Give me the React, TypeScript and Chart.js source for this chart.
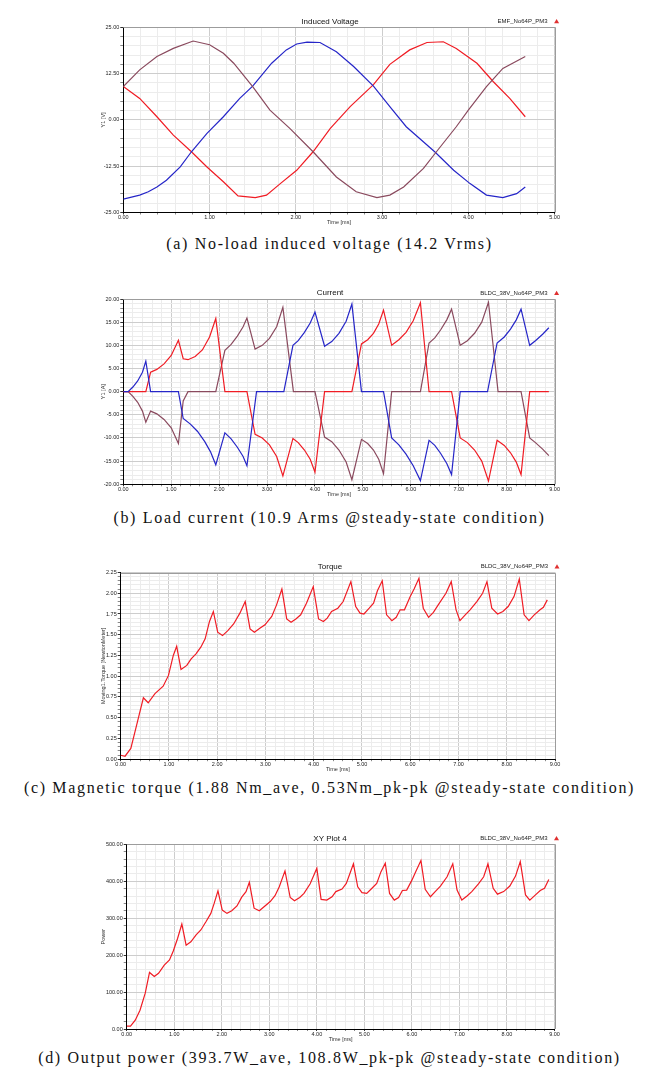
import React, { useEffect, useRef } from "react";
import { Chart, registerables } from "chart.js";

Chart.register(...registerables);

const RED = "#f01c24";
const BLUE = "#2626c8";
const BROWN = "#8a4a5e";

// ---------- (a) Induced voltage  [time ms, volts] ----------
const emfRed: [number, number][] = [
  [0, 9.0], [0.19, 5.8], [0.39, 0.85], [0.58, -4.1], [0.79, -8.6], [0.97, -12.7],
  [1.16, -16.7], [1.33, -20.5], [1.53, -21.0], [1.66, -20.3], [1.82, -17.2],
  [2.01, -13.6], [2.2, -8.6], [2.4, -2.3], [2.63, 3.6], [2.9, 9.5], [3.09, 15.0],
  [3.32, 18.9], [3.52, 20.9], [3.71, 21.1], [3.86, 19.3], [4.1, 15.3], [4.29, 10.3],
  [4.48, 5.8], [4.66, 0.85],
];
const emfBlue: [number, number][] = [
  [0, -21.4], [0.19, -20.3], [0.29, -19.4], [0.39, -18.1], [0.5, -16.3], [0.66, -12.7],
  [0.79, -8.6], [0.97, -3.65], [1.16, 0.85], [1.35, 5.8], [1.5, 9.1], [1.72, 15.3],
  [1.89, 18.9], [2.01, 20.5], [2.13, 21.0], [2.28, 20.9], [2.47, 18.4], [2.67, 14.4],
  [2.9, 9.1], [3.09, 3.6], [3.28, -1.85], [3.61, -8.6], [3.83, -13.6], [4.02, -17.2],
  [4.21, -20.3], [4.4, -21.0], [4.56, -19.9], [4.66, -18.1],
];
const emfBrown: [number, number][] = [
  [0, 9.0], [0.19, 13.5], [0.39, 17.1], [0.58, 19.3], [0.81, 21.3], [1.0, 20.3],
  [1.16, 18.0], [1.28, 15.3], [1.5, 9.0], [1.7, 2.65], [1.93, -2.3], [2.2, -8.6],
  [2.47, -15.4], [2.7, -19.4], [2.94, -21.0], [3.09, -20.3], [3.25, -18.1],
  [3.48, -13.1], [3.63, -8.6], [3.86, -1.85], [4.0, 2.65], [4.21, 9.0], [4.4, 13.9],
  [4.66, 17.1],
];

// ---------- (b) Load current  [time ms, amps] ----------
const curBlue: [number, number][] = [
  [0, 0], [0.1, 0], [0.2, 1.0], [0.3, 2.3], [0.4, 4.2], [0.47, 6.6], [0.57, 0],
  [1.15, 0], [1.25, -5.8], [1.4, -7.0], [1.55, -8.6], [1.7, -10.8], [1.82, -13.0],
  [1.93, -15.8], [2.12, -8.9], [2.25, -10.2], [2.38, -12.0], [2.5, -14.0], [2.58, -16.0],
  [2.78, 0], [3.35, 0], [3.54, 10.0], [3.65, 11.0], [3.78, 12.8], [3.9, 14.8], [4.0, 17.2],
  [4.2, 9.8], [4.35, 10.8], [4.5, 12.6], [4.65, 15.2], [4.77, 18.9], [4.97, 0],
  [5.43, 0], [5.6, -10.0], [5.75, -11.5], [5.9, -13.5], [6.05, -16.0], [6.2, -19.2],
  [6.38, -10.5], [6.5, -11.6], [6.62, -13.3], [6.75, -15.5], [6.85, -17.9], [7.03, 0],
  [7.6, 0], [7.8, 10.5], [7.95, 11.8], [8.08, 13.5], [8.2, 15.5], [8.3, 17.8],
  [8.48, 10.0], [8.6, 11.0], [8.75, 12.4], [8.88, 13.8],
];
const curRed: [number, number][] = [
  [0, 0], [0.47, 0], [0.57, 4.2], [0.7, 4.8], [0.85, 6.0], [1.0, 7.8], [1.15, 11.1],
  [1.25, 7.1], [1.35, 6.9], [1.5, 7.6], [1.65, 9.0], [1.8, 11.8], [1.93, 15.8],
  [2.12, 0], [2.58, 0], [2.75, -9.2], [2.9, -10.0], [3.05, -11.5], [3.2, -14.0],
  [3.33, -18.2], [3.54, -10.1], [3.65, -11.0], [3.78, -12.6], [3.9, -14.6], [4.0, -17.4],
  [4.2, 0], [4.77, 0], [4.97, 10.3], [5.1, 11.2], [5.22, 12.6], [5.33, 14.6], [5.43, 17.6],
  [5.6, 10.0], [5.75, 11.2], [5.9, 12.8], [6.05, 15.3], [6.2, 19.2], [6.38, 0],
  [6.85, 0], [7.03, -10.0], [7.18, -11.0], [7.33, -12.6], [7.48, -15.0], [7.62, -19.3],
  [7.8, -10.5], [7.95, -11.6], [8.08, -13.2], [8.2, -15.2], [8.3, -17.9], [8.48, 0],
  [8.88, 0],
];
const curBrown: [number, number][] = [
  [0, 0], [0.1, 0], [0.2, -1.0], [0.3, -2.3], [0.4, -4.2], [0.47, -6.6], [0.57, -4.2],
  [0.7, -4.8], [0.85, -6.0], [1.0, -7.8], [1.15, -11.2], [1.25, -2.0], [1.35, 0],
  [1.93, 0], [2.12, 8.9], [2.25, 10.2], [2.38, 12.0], [2.5, 14.0], [2.58, 15.9],
  [2.75, 9.2], [2.9, 10.0], [3.05, 11.5], [3.2, 14.0], [3.33, 18.2], [3.55, 0],
  [4.0, 0], [4.2, -9.8], [4.35, -10.8], [4.5, -12.6], [4.65, -15.2], [4.77, -19.0],
  [4.97, -10.3], [5.1, -11.2], [5.22, -12.6], [5.33, -14.6], [5.43, -17.7], [5.6, 0],
  [6.2, 0], [6.38, 10.5], [6.5, 11.6], [6.62, 13.3], [6.75, 15.5], [6.85, 17.8],
  [7.03, 10.0], [7.18, 11.0], [7.33, 12.6], [7.48, 15.0], [7.62, 19.3], [7.82, 0],
  [8.3, 0], [8.48, -10.0], [8.6, -11.0], [8.75, -12.4], [8.88, -13.8],
];

// ---------- (c) Magnetic torque  [time ms, N·m] ----------
const torque: [number, number][] = [
  [0, 0.048], [0.09, 0.036], [0.21, 0.13], [0.33, 0.41], [0.47, 0.74], [0.57, 0.68],
  [0.71, 0.79], [0.88, 0.88], [0.99, 1.01], [1.09, 1.25], [1.16, 1.36], [1.25, 1.08],
  [1.37, 1.13], [1.46, 1.21], [1.56, 1.27], [1.66, 1.35], [1.75, 1.45], [1.84, 1.66],
  [1.92, 1.78], [2.01, 1.53], [2.11, 1.49], [2.22, 1.55], [2.34, 1.63], [2.47, 1.76],
  [2.58, 1.9], [2.68, 1.57], [2.77, 1.53], [2.89, 1.58], [2.99, 1.62], [3.13, 1.72],
  [3.23, 1.86], [3.34, 2.05], [3.44, 1.69], [3.53, 1.65], [3.63, 1.69], [3.73, 1.74],
  [3.85, 1.88], [3.99, 2.08], [4.1, 1.69], [4.2, 1.66], [4.28, 1.7], [4.37, 1.78],
  [4.5, 1.82], [4.61, 1.9], [4.77, 2.14], [4.87, 1.84], [4.96, 1.76], [5.04, 1.75],
  [5.15, 1.82], [5.24, 1.88], [5.32, 2.03], [5.42, 2.15], [5.51, 1.74], [5.62, 1.67],
  [5.71, 1.71], [5.79, 1.8], [5.88, 1.8], [6.0, 1.96], [6.08, 2.05], [6.18, 2.18],
  [6.27, 1.82], [6.38, 1.71], [6.48, 1.77], [6.58, 1.86], [6.74, 2.0], [6.85, 2.14],
  [6.95, 1.8], [7.03, 1.67], [7.14, 1.74], [7.24, 1.8], [7.38, 1.9], [7.5, 2.0],
  [7.59, 2.14], [7.69, 1.82], [7.81, 1.75], [7.92, 1.78], [8.03, 1.84], [8.15, 1.96],
  [8.26, 2.17], [8.36, 1.74], [8.46, 1.67], [8.57, 1.74], [8.69, 1.8], [8.76, 1.83],
  [8.84, 1.92],
];

// ---------- (d) Output power  [time ms, W] ----------
const power: [number, number][] = [
  [0, 8], [0.08, 8], [0.18, 24], [0.28, 51], [0.39, 97], [0.48, 153], [0.58, 142],
  [0.67, 151], [0.79, 173], [0.9, 187], [0.98, 211], [1.07, 245], [1.16, 284],
  [1.25, 227], [1.35, 236], [1.46, 255], [1.56, 268], [1.67, 291], [1.77, 313],
  [1.84, 340], [1.92, 374], [2.01, 322], [2.11, 313], [2.21, 320], [2.32, 333],
  [2.42, 357], [2.51, 372], [2.58, 397], [2.68, 327], [2.79, 320], [2.89, 331],
  [3.02, 345], [3.12, 361], [3.21, 385], [3.33, 428], [3.44, 356], [3.53, 347],
  [3.64, 356], [3.73, 367], [3.86, 393], [4.0, 435], [4.09, 351], [4.21, 349],
  [4.32, 358], [4.4, 372], [4.53, 379], [4.62, 394], [4.77, 447], [4.86, 385],
  [4.95, 369], [5.05, 367], [5.16, 381], [5.26, 394], [5.35, 426], [5.44, 449],
  [5.53, 367], [5.63, 349], [5.72, 356], [5.8, 375], [5.89, 376], [6.0, 403],
  [6.08, 426], [6.19, 456], [6.28, 378], [6.39, 358], [6.49, 372], [6.6, 387],
  [6.74, 412], [6.86, 447], [6.95, 376], [7.05, 349], [7.16, 360], [7.26, 372],
  [7.4, 393], [7.51, 412], [7.6, 447], [7.71, 381], [7.8, 365], [7.93, 372],
  [8.06, 387], [8.18, 414], [8.28, 453], [8.39, 363], [8.48, 349], [8.6, 363],
  [8.7, 375], [8.79, 381], [8.88, 405],
];

// ---------- tick labels (major ticks) ----------
const emfXTicks = [0, 1, 2, 3, 4, 5];
const emfYTicks = [-25, -12.5, 0, 12.5, 25];
const msXTicks = [0, 1, 2, 3, 4, 5, 6, 7, 8, 9];
const curYTicks = [-20, -15, -10, -5, 0, 5, 10, 15, 20];
const torYTicks = [0, 0.25, 0.5, 0.75, 1.0, 1.25, 1.5, 1.75, 2.0, 2.25];
const powYTicks = [0, 100, 200, 300, 400, 500];

const captions = [
  "(a) No-load induced voltage (14.2 Vrms)",
  "(b) Load current (10.9 Arms @steady-state condition)",
  "(c) Magnetic torque (1.88 Nm_ave, 0.53Nm_pk-pk @steady-state condition)",
  "(d) Output power (393.7W_ave, 108.8W_pk-pk @steady-state condition)",
];

const SANS = '"Liberation Sans", Arial, sans-serif';

function subdivide(majors: number[], n: number) {
  const out: number[] = [];
  for (let i = 0; i < majors.length - 1; i++) {
    const a = majors[i], b = majors[i + 1];
    for (let k = 0; k < n; k++) out.push(a + ((b - a) * k) / n);
  }
  out.push(majors[majors.length - 1]);
  return out;
}
const isMajor = (v: number, majors: number[]) => majors.some((m) => Math.abs(m - v) < 1e-7);

function makeAxis(majors: number[], n: number, titleText: string, isX: boolean, size: number) {
  const all = subdivide(majors, n);
  return {
    type: "linear" as const,
    min: majors[0],
    max: majors[majors.length - 1],
    afterBuildTicks: (s: any) => {
      s.ticks = all.map((v) => ({ value: v }));
    },
    afterFit: (s: any) => {
      if (isX) s.height = size;
      else s.width = size;
    },
    ticks: {
      autoSkip: false,
      maxRotation: 0,
      minRotation: 0,
      padding: isX ? 0 : 1,
      color: "#222",
      font: { family: SANS, size: 5.5 },
      callback: (v: any) => (isMajor(Number(v), majors) ? Number(v).toFixed(2) : ""),
    },
    grid: {
      color: (c: any) => (c.tick && isMajor(c.tick.value, majors) ? "#cdcdcd" : "#ececec"),
      tickColor: (c: any) => (c.tick && isMajor(c.tick.value, majors) ? "#333" : "#888"),
      tickLength: isX ? 2 : 3,
      lineWidth: 1,
    },
    border: { color: "#000", width: 1 },
    title: {
      display: true,
      text: titleText,
      color: "#333",
      padding: 0,
      font: { family: SANS, size: 5.5 },
    },
  };
}

const decorPlugin = {
  id: "decor",
  afterDraw(chart: any, _args: any, opts: any) {
    const { ctx, chartArea: a } = chart;
    ctx.save();
    ctx.strokeStyle = "#9c9c9c";
    ctx.lineWidth = 1;
    ctx.beginPath();
    ctx.moveTo(a.left, Math.round(a.top) + 0.5);
    ctx.lineTo(Math.round(a.right) + 0.5, Math.round(a.top) + 0.5);
    ctx.lineTo(Math.round(a.right) + 0.5, a.bottom);
    ctx.stroke();
    ctx.fillStyle = "#111";
    ctx.textBaseline = "middle";
    ctx.textAlign = "center";
    ctx.font = `8px ${SANS}`;
    ctx.fillText(opts.title, 330, a.top - 6);
    ctx.textAlign = "right";
    ctx.font = `6px ${SANS}`;
    ctx.fillStyle = "#222";
    ctx.fillText(opts.legend, a.right - 7, a.top - 6);
    const tx = a.right + 2, ty = a.top - 6;
    ctx.fillStyle = "#e03030";
    ctx.beginPath();
    ctx.moveTo(tx - 2.5, ty + 2);
    ctx.lineTo(tx + 2.5, ty + 2);
    ctx.lineTo(tx, ty - 2.2);
    ctx.closePath();
    ctx.fill();
    ctx.restore();
  },
};

type Series = { data: [number, number][]; color: string };
type Spec = {
  top: number;
  h: number;
  area: { left: number; top: number; right: number; bottom: number };
  xMaj: number[];
  yMaj: number[];
  yTitle: string;
  title: string;
  legend: string;
  series: Series[];
};

const X_H = 13.3;
const PAD_L = 100;

function buildConfig(spec: Spec): any {
  const a = spec.area;
  return {
    type: "line",
    data: {
      datasets: spec.series.map((s) => ({
        data: s.data.map(([x, y]) => ({ x, y })),
        borderColor: s.color,
        borderWidth: 1.2,
        pointRadius: 0,
        tension: 0,
        fill: false,
      })),
    },
    options: {
      responsive: false,
      animation: false,
      events: [],
      layout: {
        padding: {
          left: PAD_L,
          right: 657 - a.right,
          top: a.top - spec.top,
          bottom: spec.top + spec.h - a.bottom - X_H,
        },
      },
      scales: {
        x: makeAxis(spec.xMaj, 5, "Time [ms]", true, X_H),
        y: makeAxis(spec.yMaj, 5, spec.yTitle, false, a.left - PAD_L),
      },
      plugins: {
        legend: { display: false },
        title: { display: false },
        tooltip: { enabled: false },
        decor: { title: spec.title, legend: spec.legend },
      },
    },
    plugins: [decorPlugin],
  };
}

const specs: Spec[] = [
  {
    top: 0, h: 232,
    area: { left: 123.3, top: 27.3, right: 554.6, bottom: 212.5 },
    xMaj: emfXTicks, yMaj: emfYTicks, yTitle: "Y1 [V]",
    title: "Induced Voltage", legend: "EMF_No64P_PM3",
    series: [{ data: emfBrown, color: BROWN }, { data: emfBlue, color: BLUE }, { data: emfRed, color: RED }],
  },
  {
    top: 270, h: 236,
    area: { left: 123.3, top: 299, right: 554.6, bottom: 484.3 },
    xMaj: msXTicks, yMaj: curYTicks, yTitle: "Y1 [A]",
    title: "Current", legend: "BLDC_38V_No64P_PM3",
    series: [{ data: curBlue, color: BLUE }, { data: curRed, color: RED }, { data: curBrown, color: BROWN }],
  },
  {
    top: 545, h: 231,
    area: { left: 120.7, top: 572.5, right: 555, bottom: 759.2 },
    xMaj: msXTicks, yMaj: torYTicks, yTitle: "Moving1.Torque [NewtonMeter]",
    title: "Torque", legend: "BLDC_38V_No64P_PM3",
    series: [{ data: torque, color: RED }],
  },
  {
    top: 815, h: 231,
    area: { left: 126.7, top: 844.3, right: 554.5, bottom: 1029 },
    xMaj: msXTicks, yMaj: powYTicks, yTitle: "Power",
    title: "XY Plot 4", legend: "BLDC_38V_No64P_PM3",
    series: [{ data: power, color: RED }],
  },
];

const captionTops = [243.5, 518, 788, 1058];

function Panel({ spec }: { spec: Spec }) {
  const ref = useRef<HTMLCanvasElement | null>(null);
  useEffect(() => {
    if (!ref.current) return;
    const chart = new Chart(ref.current, buildConfig(spec));
    return () => chart.destroy();
  }, [spec]);
  return (
    <canvas
      ref={ref}
      width={657}
      height={spec.h}
      style={{ position: "absolute", left: 0, top: spec.top, width: 657, height: spec.h }}
    />
  );
}

export default function App() {
  return (
    <div style={{ position: "absolute", left: 0, top: 0, width: 657, height: 1080, background: "#fff", overflow: "hidden" }}>
      {specs.map((s, i) => (
        <Panel key={i} spec={s} />
      ))}
      {captions.map((c, i) => (
        <div
          key={"c" + i}
          style={{
            position: "absolute",
            left: 0,
            width: 659,
            top: captionTops[i] - 10,
            height: 20,
            lineHeight: "20px",
            textAlign: "center",
            fontFamily: '"Liberation Serif", "Times New Roman", serif',
            fontSize: 16,
            letterSpacing: "1.68px",
            color: "#111",
            whiteSpace: "nowrap",
          }}
        >
          {c}
        </div>
      ))}
    </div>
  );
}
